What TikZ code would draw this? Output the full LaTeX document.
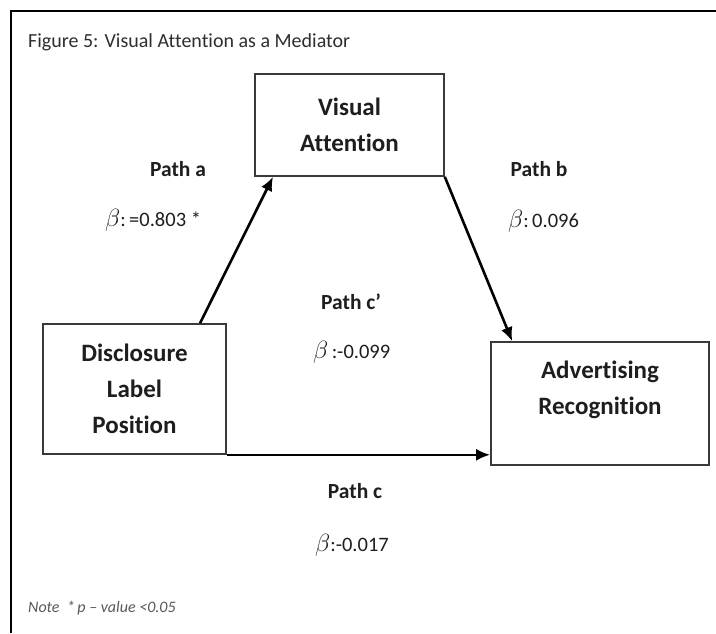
\documentclass[tikz,border=0pt]{standalone}
\usepackage{fontspec}
\setmainfont{Carlito}[Ligatures={NoCommon}]
\usetikzlibrary{arrows.meta,calc}
\definecolor{boxline}{HTML}{3A3A3A}
\definecolor{txt}{HTML}{1E1E1E}
\definecolor{titlec}{HTML}{2E2E2E}
\definecolor{notec}{HTML}{595959}
\newcommand{\bigbeta}{{\fontsize{23}{24}\selectfont$\beta$}}
\begin{document}
\begin{tikzpicture}[x=1pt,y=-1pt,
  varbox/.style={draw=boxline,line width=1.6pt,rectangle,inner sep=0pt,
    text=txt,align=center,font=\fontsize{25}{36}\selectfont\bfseries},
  pathlbl/.style={text=txt,font=\fontsize{21.5}{24}\selectfont\bfseries},
  betalbl/.style={text=txt,anchor=west,inner sep=0pt,font=\fontsize{20.5}{24}\selectfont}, 
  conn/.style={line width=2.6pt,-{Latex[length=14pt,width=12pt]}}]
\useasboundingbox (0,0) rectangle (716,633);
\fill[white] (0,0) rectangle (716,633);
% frame
\draw[line width=2.6pt] (11,633) -- (11,11) -- (716,11);
% title
\node[anchor=west,text=titlec,font=\fontsize{20}{24}\selectfont,inner sep=0pt] (title) at (28,42) {Figure 5: Visual Attention as a Mediator};
% boxes
\node[varbox,minimum width=189pt,minimum height=102pt] (va) at (349.5,125) {Visual\\Attention};
\node[varbox,minimum width=183pt,minimum height=130pt] (dlp) at (134.5,389) {Disclosure\\Label\\Position};
\node[varbox,minimum width=218pt,minimum height=123pt] (ar) at (600,403.5) {};
\node[text=txt,align=center,font=\fontsize{25}{36}\selectfont\bfseries] (artext) at ([yshift=13.5pt]ar.center) {Advertising\\Recognition};
% connectors
\draw[conn] ([xshift=65.5pt]dlp.north) -- ([xshift=-76.5pt]va.south);
\draw[conn] (va.south east) -- ([xshift=22pt]ar.north west);
\draw[conn] (dlp.south east) -- (dlp.south east -| ar.west);
% path labels
\node[pathlbl] (pa) at (178,169) {Path a};
\node[betalbl] (ba) at (105,220) {\bigbeta:\,=0.803 *};
\node[pathlbl] (pb) at (539,169) {Path b};
\node[betalbl] (bb) at (508,221) {\bigbeta:\,0.096};
\node[pathlbl] (pcp) at (351,302) {Path c’};
\node[betalbl] (bcp) at (313,352) {\bigbeta\,:-0.099};
\node[pathlbl] (pc) at (355,491) {Path c};
\node[betalbl] (bc) at (315,545) {\bigbeta:-0.017};
% note
\node[anchor=west,inner sep=0pt,text=notec,font=\fontsize{16}{18}\selectfont\itshape] (note) at (28,608) {Note \ *\,p -- value <0.05};
\end{tikzpicture}
\end{document}
